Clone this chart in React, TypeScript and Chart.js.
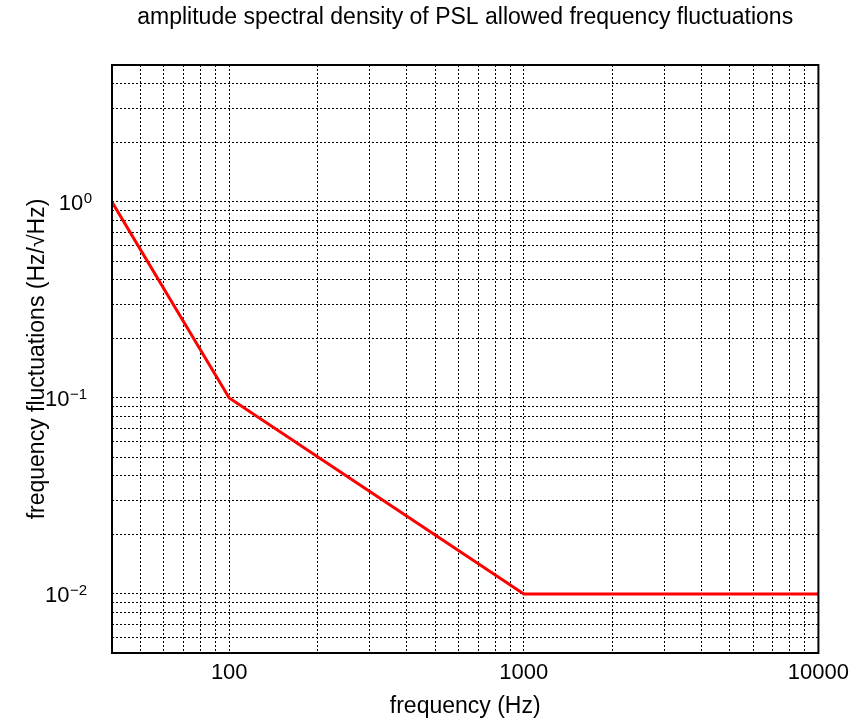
import React, { useEffect, useRef } from 'react';
import { Chart, registerables } from 'chart.js';

Chart.register(...registerables);

// ---- data ----
const frequencyHz = [40, 100, 1000, 10000];
const asdHzPerRtHz = [1, 0.1, 0.01, 0.01];

// grid line positions (major + minor, log axes)
const xGridValues = [
  40, 50, 60, 70, 80, 90,
  100, 200, 300, 400, 500, 600, 700, 800, 900,
  1000, 2000, 3000, 4000, 5000, 6000, 7000, 8000, 9000,
  10000,
];
const xTickLabels = [100, 1000, 10000];
const yGridValues = [
  0.005, 0.006, 0.007, 0.008, 0.009,
  0.01, 0.02, 0.03, 0.04, 0.05, 0.06, 0.07, 0.08, 0.09,
  0.1, 0.2, 0.3, 0.4, 0.5, 0.6, 0.7, 0.8, 0.9,
  1, 2, 3, 4, 5,
];
const yTickExponents = [0, -1, -2];

const TITLE = 'amplitude spectral density of PSL allowed frequency fluctuations';
const X_TITLE = 'frequency (Hz)';
const Y_TITLE = 'frequency fluctuations (Hz/\u221AHz)';
const FONT = '"Liberation Sans", Arial, Helvetica, sans-serif';

const decorPlugin = {
  id: 'decor',
  afterDraw(chart: any) {
    const { ctx, chartArea: a, scales } = chart;
    ctx.save();
    // axes box
    ctx.strokeStyle = '#000';
    ctx.lineWidth = 2;
    ctx.strokeRect(a.left, a.top, a.right - a.left, a.bottom - a.top);
    // title
    ctx.fillStyle = '#000';
    ctx.font = `23px ${FONT}`;
    ctx.textAlign = 'center';
    ctx.textBaseline = 'alphabetic';
    ctx.fillText(TITLE, (a.left + a.right) / 2, 24);
    // y tick labels with superscript exponents
    const ys = scales.y;
    for (const e of yTickExponents) {
      const py = ys.getPixelForValue(Math.pow(10, e));
      const expText = e < 0 ? '\u2212' + Math.abs(e) : String(e);
      ctx.font = `15px ${FONT}`;
      const ew = ctx.measureText(expText).width;
      const right = a.left - 20 - (e < 0 ? 5 : 0);
      ctx.textAlign = 'left';
      ctx.fillText(expText, right - ew, py + 1);
      ctx.font = `22px ${FONT}`;
      ctx.textAlign = 'right';
      ctx.fillText('10', right - ew - 0.5, py + 7.9);
    }
    ctx.restore();
  },
};

export default function App() {
  const ref = useRef<HTMLCanvasElement | null>(null);

  useEffect(() => {
    document.body.style.margin = '0';
    if (!ref.current) return;
    const chart = new Chart(ref.current, {
      type: 'line',
      data: {
        datasets: [
          {
            data: frequencyHz.map((f, i) => ({ x: f, y: asdHzPerRtHz[i] })),
            borderColor: '#ff0000',
            borderWidth: 3,
            pointRadius: 0,
            fill: false,
            tension: 0,
          },
        ],
      },
      options: {
        responsive: false,
        animation: false,
        devicePixelRatio: 1,
        layout: { padding: { top: 65, right: 35, left: 0, bottom: 0 } },
        plugins: {
          legend: { display: false },
          title: { display: false },
          tooltip: { enabled: false },
        },
        scales: {
          x: {
            type: 'logarithmic',
            min: 40,
            max: 10000,
            afterBuildTicks: (s: any) => {
              s.ticks = xGridValues.map((v) => ({ value: v }));
            },
            afterFit: (s: any) => {
              s.height = 68;
            },
            grid: { color: '#000', lineWidth: 1, drawTicks: false },
            border: { display: false, dash: [2, 2] },
            ticks: {
              autoSkip: false,
              maxRotation: 0,
              padding: 7,
              color: '#000',
              font: { family: FONT, size: 22 },
              callback: (v: any) => (xTickLabels.includes(Number(v)) ? String(v) : ''),
            },
            title: {
              display: true,
              text: X_TITLE,
              color: '#000',
              font: { family: FONT, size: 23 },
              padding: { top: 0, bottom: 1 },
            },
          },
          y: {
            type: 'logarithmic',
            min: 0.005,
            max: 5,
            afterBuildTicks: (s: any) => {
              s.ticks = yGridValues.map((v) => ({ value: v }));
            },
            afterFit: (s: any) => {
              s.width = 112;
            },
            grid: { color: '#000', lineWidth: 1, drawTicks: false },
            border: { display: false, dash: [2, 2] },
            ticks: { display: false },
            title: {
              display: true,
              text: Y_TITLE,
              color: '#000',
              font: { family: FONT, size: 23 },
              padding: { top: 24, bottom: 0 },
            },
          },
        },
      } as any,
      plugins: [decorPlugin],
    });
    return () => chart.destroy();
  }, []);

  return <canvas ref={ref} width={856} height={721} style={{ display: 'block' }} />;
}
